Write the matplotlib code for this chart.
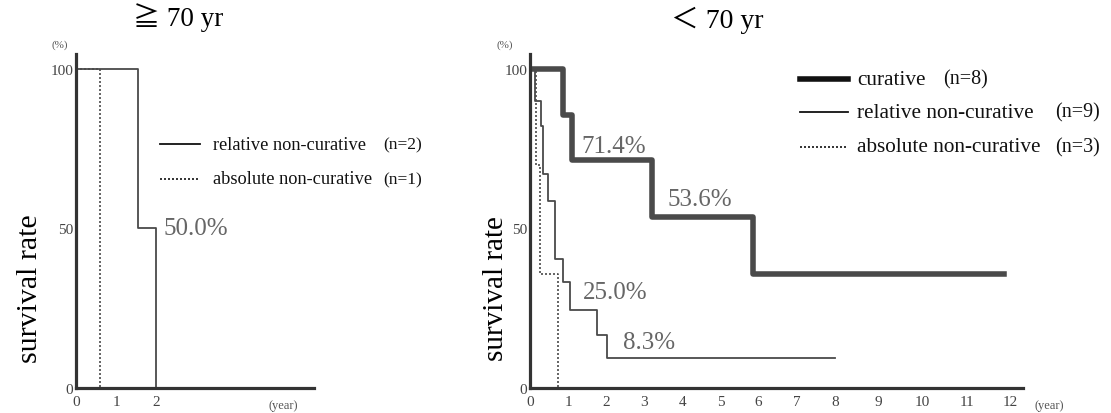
import numpy as np
import matplotlib
matplotlib.use("Agg")
import matplotlib.pyplot as plt
from matplotlib.lines import Line2D

plt.rcParams["font.family"] = ["Liberation Serif", "Noto Sans CJK JP", "DejaVu Serif"]

# >= 70 yr group (years, survival %)
old_rel_t = [0, 1.54, 2.0]
old_rel_s = [100, 50, 0]
old_abs_t = [0, 0.6]
old_abs_s = [100, 0]

# < 70 yr group
cur_t = [0, 0.87, 1.1, 3.19, 5.85, 11.85]
cur_s = [100, 85.7, 71.4, 53.6, 35.7, 35.7]
rel_t = [0, 0.14, 0.28, 0.35, 0.48, 0.66, 0.87, 1.05, 1.77, 2.01, 8.0]
rel_s = [100, 90, 82, 67, 58.5, 40.5, 33.2, 24.5, 16.6, 9.5, 9.5]
abs_t = [0, 0.16, 0.27, 0.73]
abs_s = [100, 70, 35.7, 0]

old_labels = [("50.0%", 2.18, 50)]
young_labels = [("71.4%", 1.36, 75.9), ("53.6%", 3.6, 59.2),
                ("25.0%", 1.39, 30.1), ("8.3%", 2.44, 14.4)]

old_legend = [("relative non-curative", "(n=2)", "-", 1.3),
              ("absolute non-curative", "(n=1)", (0, (1.2, 1.2)), 1.2)]
young_legend = [("curative", "(n=8)", "-", 4.0),
                ("relative non-curative", "(n=9)", "-", 1.3),
                ("absolute non-curative", "(n=3)", (0, (1.2, 1.2)), 1.2)]

LINE = "#4a4a4a"
AXC = "#333333"
LBL = "#666666"

# the original x axis is stretched after 8 years
k = 44 / 38.1
def fwd(x):
    x = np.asarray(x, dtype=float)
    return np.where(x <= 8, x, 8 + (x - 8) * k)
def inv(u):
    u = np.asarray(u, dtype=float)
    return np.where(u <= 8, u, 8 + (u - 8) / k)

fig = plt.figure(figsize=(11.11, 4.14), dpi=100)
ax1 = fig.add_axes([76/1111, 25/414, 238/1111, 334/414])
ax2 = fig.add_axes([530/1111, 25/414, 493/1111, 334/414])

def style(ax, xticks, xmax, pct_x):
    for s in ["top", "right"]:
        ax.spines[s].set_visible(False)
    for s in ["left", "bottom"]:
        ax.spines[s].set_linewidth(2.3)
        ax.spines[s].set_color(AXC)
    ax.set_ylim(0, 104.7)
    ax.set_xlim(0, xmax)
    ax.set_yticks([0, 50, 100])
    ax.set_xticks(xticks)
    ax.tick_params(length=0, labelsize=11, colors="#444444", pad=5)
    ax.tick_params(axis="y", pad=2)
    ax.text(pct_x, 1.03, "(%)", transform=ax.transAxes, ha="right", va="center",
            fontsize=8, color="#555555")

style(ax1, [0, 1, 2], 5.95, -0.035)
ax2.set_xscale("function", functions=(fwd, inv))
style(ax2, list(range(13)), 12.28, -0.035)

ax1.step(old_rel_t, old_rel_s, where="post", color=LINE, lw=1.3)
ax1.step(old_abs_t, old_abs_s, where="post", color=LINE, lw=1.2, ls=(0, (1.2, 1.2)))

ax2.step(cur_t, cur_s, where="post", color=LINE, lw=4.0)
ax2.step(rel_t, rel_s, where="post", color=LINE, lw=1.3)
ax2.step(abs_t, abs_s, where="post", color=LINE, lw=1.2, ls=(0, (1.2, 1.2)))

for ax, labels in [(ax1, old_labels), (ax2, young_labels)]:
    for txt, x, y in labels:
        ax.text(x, y, txt, fontsize=18, color=LBL, ha="left", va="center")

ax1.text(0.87, -0.051, "(year)", transform=ax1.transAxes, ha="center", va="center",
         fontsize=9, color="#555555")
ax2.text(1.053, -0.051, "(year)", transform=ax2.transAxes, ha="center", va="center",
         fontsize=9, color="#555555")

def legend(ax, rows, x0, x1, xt, xn, ys, fs, nfs):
    for (name, n, ls, lw), y, nx in zip(rows, ys, xn):
        ax.add_line(Line2D([x0, x1], [y, y], transform=ax.transAxes, color="#111111",
                           lw=lw, ls=ls, clip_on=False))
        ax.text(xt, y, name, transform=ax.transAxes, fontsize=fs, va="center", color="#111111")
        ax.text(nx, y, n, transform=ax.transAxes, fontsize=nfs, va="center", color="#111111")

legend(ax1, old_legend, 0.353, 0.521, 0.576, [1.29, 1.29], [0.730, 0.626], 13.2, 12.5)
legend(ax2, young_legend, 0.548, 0.645, 0.663, [0.838, 1.065, 1.065],
       [0.925, 0.826, 0.722], 15.3, 14.5)

fig.text(30/1111, 1 - 289/414, "survival rate", rotation=90, ha="center", va="center", fontsize=21.5)
fig.text(496/1111, 1 - 289/414, "survival rate", rotation=90, ha="center", va="center", fontsize=21)
fig.text(178/1111, 1 - 18/414, "≧ 70 yr", ha="center", va="center", fontsize=19.5)
fig.text(717/1111, 1 - 20/414, "＜ 70 yr", ha="center", va="center", fontsize=20)

fig.savefig("out.png", dpi=100, facecolor="white")
